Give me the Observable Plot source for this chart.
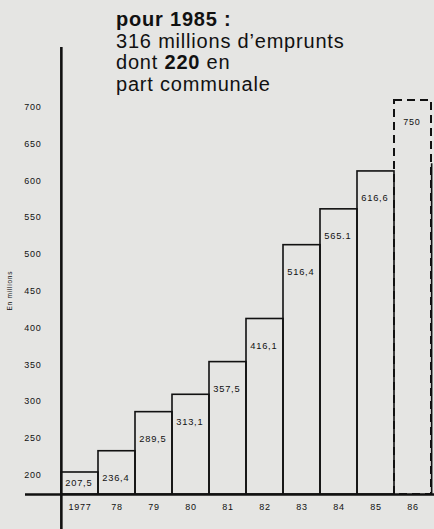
<!DOCTYPE html>
<html>
<head>
<meta charset="utf-8">
<script src="https://cdn.jsdelivr.net/npm/d3@7"></script>
<script src="https://cdn.jsdelivr.net/npm/@observablehq/plot@0.6"></script>
<style>
  html, body { margin: 0; padding: 0; background: #e5e5e3; }
  #wrap { position: relative; width: 434px; height: 529px; overflow: hidden; }
  #title {
    position: absolute; left: 116px; top: 9px;
    font-family: "Liberation Sans", Arial, Helvetica, sans-serif;
    font-size: 20px; line-height: 21.5px; letter-spacing: 0.8px; color: #111;
  }
  #title b { font-weight: bold; }
</style>
</head>
<body>
<div id="wrap">
  <div id="chart"></div>
  <div id="title"><b>pour 1985 :</b><br>316 millions d’emprunts<br>dont <b>220</b> en<br>part communale</div>
</div>
<script>
// ---- data ----
const years = ["1977", "78", "79", "80", "81", "82", "83", "84", "85", "86"];
const values = [207.5, 236.4, 289.5, 313.1, 357.5, 416.1, 516.4, 565.1, 616.6, 750];
const valueLabels = ["207,5", "236,4", "289,5", "313,1", "357,5", "416,1", "516,4", "565.1", "616,6", "750"];
const yTicks = [200, 250, 300, 350, 400, 450, 500, 550, 600, 650, 700];
const projectedYear = "86";
const solidPart86 = 627;
const yAxisTitle = "En millions";

// ---- layout ----
const W = 434, H = 529;
const xRange = [59, 432];
const bw = (xRange[1] - xRange[0]) / years.length;
const yDomain = [177.6, 713];

const data = years.map((year, i) => ({ year, value: values[i], label: valueLabels[i] }));
const actual = data.filter(d => d.year !== projectedYear);
const projected = data.filter(d => d.year === projectedYear);

const ink = "#111";

const chart = Plot.plot({
  width: W,
  height: H,
  marginLeft: 25,
  marginRight: 0,
  marginTop: 47,
  marginBottom: 0,
  style: { background: "transparent", fontFamily: "'Liberation Sans', Arial, sans-serif", color: ink, letterSpacing: "0.75px" },
  x: { type: "band", domain: years, range: xRange, padding: 0, axis: null },
  y: { domain: yDomain, range: [494, 100], clamp: true, axis: null },
  marks: [
    // bars
    Plot.barY(actual, { x: "year", y: "value", fill: "none", stroke: ink, strokeWidth: 1.6 }),
    Plot.barY(projected, { x: "year", y: "value", fill: "none", stroke: ink, strokeWidth: 2, strokeDasharray: "8,5" }),
    Plot.ruleX(projected, { x: "year", y1: yDomain[0], y2: () => solidPart86, dx: bw / 2, stroke: ink, strokeWidth: 1.6 }),
    // value labels
    Plot.text(actual, {
      x: "year", y: d => Math.max(d.value, 230), text: "label",
      dy: 27, dx: -bw / 2 + 4, textAnchor: "start", fontSize: 9.3, fill: ink
    }),
    Plot.text(projected, {
      x: "year", y: "value", text: "label",
      dy: 22, dx: -bw / 2 + 9, textAnchor: "start", fontSize: 9, fill: ink
    }),
    // y axis line and baseline
    Plot.ruleX([years[0]], { x: d => d, dx: -bw / 2, stroke: ink, strokeWidth: 2.6 }),
    Plot.ruleY([yDomain[0]], { stroke: ink, strokeWidth: 2.6 }),
    // y tick labels
    Plot.text(yTicks, { y: d => d, text: d => String(d), frameAnchor: "left", dx: 16, dy: -3, textAnchor: "end", fontSize: 9, fill: ink }),
    // x labels
    Plot.text(years, { x: d => d, text: d => d, frameAnchor: "bottom", dy: -20, fontSize: 9, fill: ink }),
    // y title
    Plot.text([yAxisTitle], { frameAnchor: "left", dx: -16, dy: 22, rotate: -90, fontSize: 6.5, fill: ink, text: d => d })
  ]
});
document.getElementById("chart").appendChild(chart);
</script>
</body>
</html>
